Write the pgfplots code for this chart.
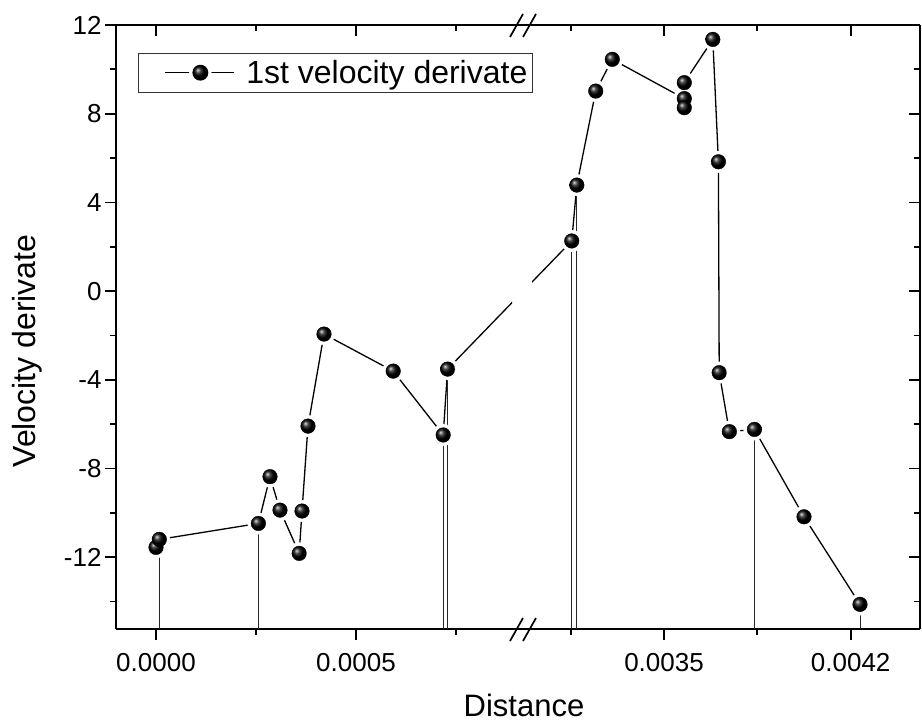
\documentclass[border=0pt]{standalone}
\usepackage{fontspec}
\setmainfont{Liberation Sans}
\usepackage{pgfplots}
\usepackage{pgfplotstable}
\pgfplotsset{compat=1.18}

% points left of the axis break
\pgfplotstableread{
x y
0.0000000 -11.56
0.0000083 -11.20
0.000256 -10.48
0.000285 -8.37
0.000310 -9.88
0.000358 -11.83
0.000365 -9.92
0.000380 -6.09
0.000420 -1.94
0.000593 -3.61
0.000718 -6.49
0.000729 -3.52
}\dataL

% points right of the axis break
\pgfplotstableread{
x y
0.003154 2.26
0.003173 4.78
0.003244 9.02
0.003306 10.45
0.003576 8.68
0.003576 8.27
0.003576 9.40
0.003683 11.35
0.003704 5.83
0.003707 -3.68
0.003745 -6.34
0.003839 -6.24
0.004025 -10.18
0.004235 -14.13
}\dataR

% points with drop lines
\pgfplotstableread{
x y
0.0000083 -11.20
0.000256 -10.48
0.000718 -6.49
0.000729 -3.52
0.003154 2.26
0.003173 4.78
0.003839 -6.24
0.004235 -14.13
}\drops

\pgfplotsset{
  seg/.style={
    scale only axis, height=604pt, ymin=-15.24, ymax=12, anchor=south west,
    scaled x ticks=false, scaled y ticks=false,
    axis line style={line width=1.7pt},
    tick style={line width=1.7pt, black},
    major tick length=11pt, minor tick length=6pt,
    ytick={-12,-8,-4,0,4,8,12}, minor ytick={-14,-10,-6,-2,2,6,10},
    tick label style={font=\fontsize{26}{26}\selectfont},
    xticklabel style={yshift=-10pt},
  },
  leftx/.style={xmin=-0.0001, xmax=0.00089, width=396pt, at={(116pt,95pt)},
    xtick={0,0.0005}, minor xtick={0.00025,0.00075}},
  rightx/.style={xmin=0.003005, xmax=0.00446, width=388pt, at={(532pt,95pt)},
    xtick={0.0035,0.0042}, minor xtick={0.00315,0.00385}},
  dline/.style={black, line width=1.3pt, mark=none},
}

% #1 = table, #2 = bridge across the break (same two data points in this segment's scale)
\newcommand{\drawseries}[2]{%
  \addplot[dline] table {#1};
  \addplot[dline, forget plot] coordinates {#2};
  \addplot[only marks, mark=*, mark size=10.8pt, white, forget plot] table {#1};
  \addplot[only marks, mark=none, forget plot,
    error bars/.cd, y dir=minus, y fixed=40, error mark=none,
    error bar style={draw=black!85, line width=0.9pt}] table {\drops};
  \addplot[only marks, mark=ball, ball color=black, mark size=7.3pt, forget plot] table {#1};
}

\begin{document}
\begin{tikzpicture}
\useasboundingbox (0pt,0pt) rectangle (922pt,724pt);

% left segment, bottom + left
\begin{axis}[seg, leftx,
  axis x line*=bottom, axis y line*=left, tick align=outside,
  xticklabels={0.0000,0.0005},
  yticklabels={-12,-8,-4,0,4,8,12},
  legend style={at={(axis description cs:0.0556,0.9536)}, anchor=north west,
    draw=black!80, line width=0.7pt, fill=white,
    font=\fontsize{32}{32}\selectfont, inner xsep=3pt, inner ysep=5pt},
  legend cell align=left,
  legend image code/.code={
    \path[draw=none] (0pt,0pt) -- (103pt,0pt);
    \draw[line width=1.3pt] (24pt,0pt) -- (93pt,0pt);
    \fill[white] (59pt,0pt) circle (10.5pt);
    \shade[ball color=black] (59pt,0pt) circle (7.3pt);
  },
]
\drawseries{\dataL}{(0.000729,-3.52) (0.0010393,2.26)}
\addlegendentry{1st velocity derivate}
\end{axis}
% left segment, top ticks
\begin{axis}[seg, leftx,
  axis x line*=top, axis y line=none, tick align=inside,
  xticklabels={}]
\end{axis}

% right segment, bottom
\begin{axis}[seg, rightx,
  axis x line*=bottom, axis y line=none, tick align=outside,
  xticklabels={0.0035,0.0042}]
\drawseries{\dataR}{(0.002689,-3.52) (0.003154,2.26)}
\end{axis}
% right segment, top + right
\begin{axis}[seg, rightx,
  axis x line*=top, axis y line*=right, tick align=inside,
  xticklabels={}, yticklabels={}]
\end{axis}

% axis break
\draw[line width=1.7pt] (511pt,95pt) -- (533pt,95pt);
\draw[line width=1.7pt] (511pt,699pt) -- (533pt,699pt);
\draw[line width=1.7pt] (510pt,83pt) -- (523pt,106pt);
\draw[line width=1.7pt] (523pt,83pt) -- (536pt,106pt);
\draw[line width=1.7pt] (510pt,687pt) -- (523pt,710pt);
\draw[line width=1.7pt] (523pt,687pt) -- (536pt,710pt);

% axis titles
\node[font=\fontsize{31}{31}\selectfont] at (524pt,19pt) {Distance};
\node[font=\fontsize{32}{32}\selectfont, rotate=90] at (27pt,373pt) {Velocity derivate};
\end{tikzpicture}
\end{document}
